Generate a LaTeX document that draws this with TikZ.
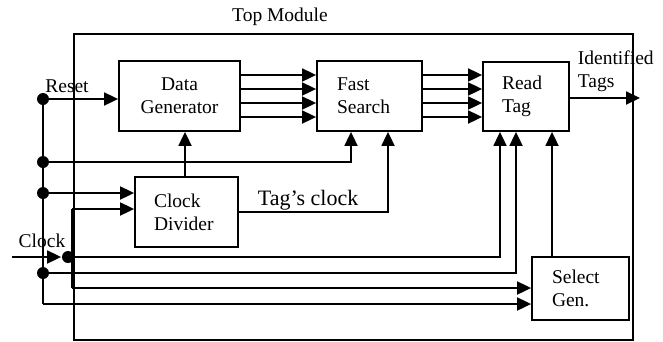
\documentclass[tikz,border=0pt]{standalone}
\usepackage{fontspec}
\setmainfont{Liberation Serif}
\usetikzlibrary{arrows.meta}
\begin{document}
\begin{tikzpicture}[x=1pt,y=-1pt,
  line width=1.8pt,
  arr/.style={-{Triangle[length=14pt,width=13pt]}},
  blk/.style={draw,line width=1.8pt,rectangle,inner ysep=0pt,align=left,font=\fontsize{19.5}{23}\selectfont},
  dot/.style={circle,fill,inner sep=0pt,minimum size=12pt},
  lbl/.style={inner sep=0pt,font=\fontsize{19.5}{23}\selectfont}]
\useasboundingbox (0,0) rectangle (663,341);
% frame
\node[draw,line width=1.2pt,minimum width=559pt,minimum height=306pt,inner sep=0pt] (top) at (353.5,187) {};
\node[lbl] (toplbl) at (280,17) {Top Module};
% blocks
\node[blk,inner xsep=0pt,minimum width=121pt,minimum height=70pt,align=center] (dg) at (179.5,96) {Data\\Generator};
\node[blk,inner xsep=20pt,text width=65pt,minimum height=70pt] (fs) at (369.5,96) {Fast\\Search};
\node[blk,inner xsep=19pt,text width=48pt,minimum height=69pt] (rt) at (526,96.5) {Read\\Tag};
\node[blk,inner xsep=19pt,text width=65pt,minimum height=70pt] (cd) at (186.5,212) {Clock\\Divider};
\node[blk,inner xsep=20pt,text width=57pt,minimum height=63pt] (sg) at (580.5,288.5) {Select\\Gen.};
% labels
\node[lbl] (reset) at (67,86) {Reset};
\node[lbl] (clock) at (42,241) {Clock};
\node[lbl,anchor=west,font=\fontsize{22}{26}\selectfont] (tagclk) at (257,200) {Tag’s clock};
\node[lbl,anchor=west,align=left] (idt) at (577,71.5) {Identified\\Tags};
% coordinates
\coordinate (xDG) at (185,0);
\coordinate (xFS1) at (351,0);
\coordinate (xFS2) at (388,0);
\coordinate (xRT1) at (500,0);
\coordinate (xRT2) at (516,0);
\coordinate (xRT3) at (552,0);
\coordinate (b0) at (43,304);
\coordinate (c1) at (72,209);
\coordinate (c2) at (72,288);
\coordinate (cin) at (12,257);
\coordinate (out) at (640,98);
% dots
\node[dot] (r1) at (43,99) {};
\node[dot] (j2) at (43,162) {};
\node[dot] (j3) at (43,193) {};
\node[dot] (j4) at (43,273) {};
\node[dot] (ck) at (68,257) {};
% connectors
\draw[arr] (r1.center) -- (r1 -| dg.west);
\draw (r1.center) -- (b0);
\foreach \s in {21,7,-7,-21}{
  \draw[arr] ([yshift=\s pt]dg.east) -- ([yshift=\s pt]fs.west);
  \draw[arr] ([yshift=\s pt]fs.east) -- ([yshift=\s pt]fs.east -| rt.west);
}
\draw[arr] ([yshift=-1.5pt]rt.east) -- (out);
\draw[arr] (j2.center) -| (fs.south -| xFS1);
\draw[arr] (cd.north -| xDG) -- (dg.south -| xDG);
\draw[arr] (j3.center) -- (j3 -| cd.west);
\draw[arr] (c1) -- (c1 -| cd.west);
\draw (c1) -- (c2);
\draw[arr] (c2) -- (c2 -| sg.west);
\draw[arr] (cin) -- (ck);
\draw[arr] (ck.center) -| (rt.south -| xRT1);
\draw[arr] (j4.center) -| (rt.south -| xRT2);
\draw[arr] (b0) -- (b0 -| sg.west);
\draw[arr] (sg.north -| xRT3) -- (rt.south -| xRT3);
\draw[arr] (cd.east) -| (fs.south -| xFS2);
\end{tikzpicture}
\end{document}
